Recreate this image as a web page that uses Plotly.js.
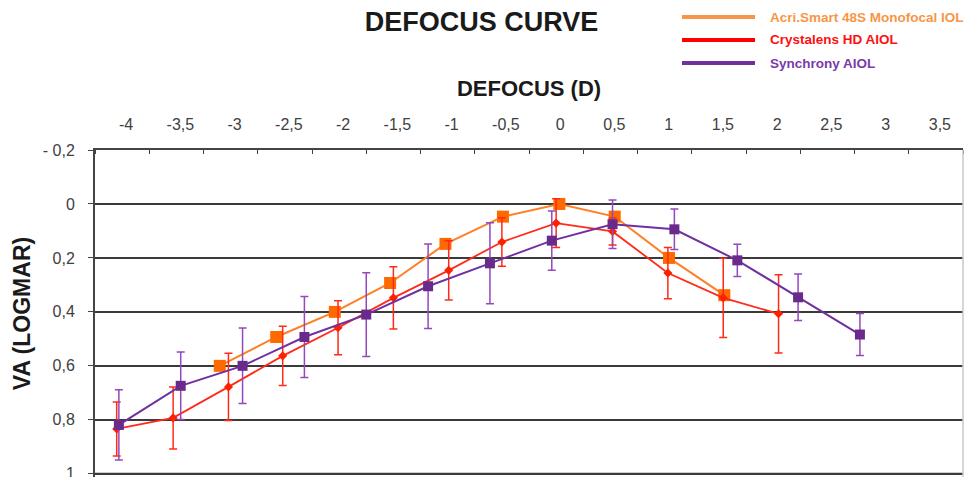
<!DOCTYPE html>
<html>
<head>
<meta charset="utf-8">
<script src="https://cdn.plot.ly/plotly-3.0.1.min.js"></script>
<style>html,body{margin:0;padding:0;background:#fff}#chart{width:970px;height:477px}</style>
</head>
<body>
<div id="chart"></div>
<script>
// Tick labels (defocus, D)
const xTickVals = [-4, -3.5, -3, -2.5, -2, -1.5, -1, -0.5, 0, 0.5, 1, 1.5, 2, 2.5, 3, 3.5];
const xTickText = ["-4", "-3,5", "-3", "-2,5", "-2", "-1,5", "-1", "-0,5", "0", "0,5", "1", "1,5", "2", "2,5", "3", "3,5"];
const yTickVals = [-0.2, 0, 0.2, 0.4, 0.6, 0.8, 1];
const yTickText = ["- 0,2", "0", "0,2", "0,4", "0,6", "0,8", "1"];

// Acri.Smart 48S Monofocal IOL (positions)
const acriX = [-3.10, -2.58, -2.04, -1.53, -1.02, -0.49, 0.03, 0.54, 1.04, 1.55];
const acriY = [0.60, 0.493, 0.40, 0.293, 0.148, 0.047, 0.0, 0.047, 0.20, 0.338];

// Crystalens HD AIOL
const crysX = [-4.05, -3.53, -3.02, -2.52, -2.01, -1.50, -0.99, -0.50, 0.00, 0.52, 1.03, 1.54, 2.05];
const crysY = [0.834, 0.793, 0.678, 0.563, 0.459, 0.348, 0.246, 0.141, 0.071, 0.102, 0.256, 0.348, 0.407];
const crysErr = [0.10, 0.115, 0.125, 0.11, 0.10, 0.115, 0.11, 0.09, 0.09, 0.05, 0.095, 0.147, 0.145];

// Synchrony AIOL
const syncX = [-4.03, -3.46, -2.89, -2.32, -1.75, -1.18, -0.61, -0.04, 0.52, 1.09, 1.67, 2.23, 2.80];
const syncY = [0.819, 0.674, 0.60, 0.493, 0.41, 0.305, 0.220, 0.136, 0.075, 0.094, 0.209, 0.346, 0.484];
const syncErr = [0.13, 0.125, 0.14, 0.15, 0.155, 0.157, 0.15, 0.11, 0.09, 0.075, 0.06, 0.086, 0.078];

const seriesNames = ["Acri.Smart 48S Monofocal IOL", "Crystalens HD AIOL", "Synchrony AIOL"];
const legendColors = ["#F79646", "#FF0000", "#7030A0"];
const legendText = ["#F79646", "#FF1010", "#7A3AAA"];

const traces = [
  {
    name: seriesNames[0], x: acriX, y: acriY, type: "scatter", mode: "lines+markers",
    line: {color: "#FF7F27", width: 2},
    marker: {symbol: "square", size: 12, color: "#FF6A00"},
    showlegend: false, cliponaxis: false
  },
  {
    name: seriesNames[1], x: crysX, y: crysY, type: "scatter", mode: "lines+markers",
    line: {color: "#FF2A1A", width: 1.8},
    marker: {symbol: "diamond", size: 7, color: "#FF2000"},
    error_y: {type: "data", array: crysErr, visible: true, color: "#FF2A1A", thickness: 1.5, width: 4},
    showlegend: false, cliponaxis: false
  },
  {
    name: seriesNames[2], x: syncX, y: syncY, type: "scatter", mode: "lines+markers",
    line: {color: "#7030A0", width: 2},
    marker: {symbol: "square", size: 10, color: "#6A2A8C"},
    error_y: {type: "data", array: syncErr, visible: true, color: "#9448BC", thickness: 1.5, width: 4},
    showlegend: false, cliponaxis: false
  }
];

const plotTop = 150, plotH = 327;
const shapes = [
  {type: "line", xref: "paper", yref: "paper", x0: 1, x1: 1, y0: 0, y1: 1, line: {color: "#C8C8C8", width: 1.5}},
  {type: "line", xref: "paper", yref: "y", x0: 0, x1: 1, y0: yTickVals[yTickVals.length - 1], y1: yTickVals[yTickVals.length - 1],
    line: {color: "#3a3a3a", width: 2}, layer: "below"}
];
const annotations = [];
const legendY = [17, 40, 63];
for (let i = 0; i < 3; i++) {
  const py = (plotTop + plotH - legendY[i]) / plotH;
  shapes.push({type: "line", xref: "paper", yref: "paper",
    x0: (682 - 95) / 868, x1: (755 - 95) / 868, y0: py, y1: py,
    line: {color: legendColors[i], width: 4}});
  annotations.push({xref: "paper", yref: "paper", x: (768 - 95) / 868, y: py,
    xanchor: "left", yanchor: "middle", showarrow: false, text: "<b>" + seriesNames[i] + "</b>",
    font: {family: "Liberation Sans, Arial", size: 13.5, color: legendText[i]}});
}

const layout = {
  width: 970, height: 477,
  margin: {l: 95, r: 7, t: plotTop, b: 0, pad: 0},
  paper_bgcolor: "#fff", plot_bgcolor: "#fff",
  font: {family: "Liberation Sans, Arial, sans-serif", color: "#404040"},
  title: {text: "<b>DEFOCUS CURVE</b>", x: 0.4964, y: 0.955, xref: "container", yref: "container",
    xanchor: "center", yanchor: "middle", font: {size: 27, color: "#1a1a1a", family: "Liberation Sans, Arial"}},
  xaxis: {
    side: "top", range: [-4.25, 3.75], autorange: false,
    tickvals: xTickVals, ticktext: xTickText, ticks: "", ticklabelshift: 4, ticklabelstandoff: 12,
    tickfont: {size: 16, color: "#404040"},
    minor: {tickvals: [-4.25, -3.75, -3.25, -2.75, -2.25, -1.75, -1.25, -0.75, -0.25, 0.25, 0.75, 1.25, 1.75, 2.25, 2.75, 3.25, 3.75],
      ticks: "inside", ticklen: 4, tickcolor: "#444", tickwidth: 1, showgrid: false},
    showgrid: false, zeroline: false, showline: true, linecolor: "#444", linewidth: 2,
    title: {text: "<b>DEFOCUS (D)</b>", standoff: 13, font: {size: 22, color: "#1a1a1a"}}
  },
  yaxis: {
    range: [1.012, -0.2], autorange: false,
    tickvals: yTickVals, ticktext: yTickText, ticks: "outside", ticklen: 5, tickcolor: "#444", tickwidth: 1,
    ticklabelstandoff: 10, ticklabeloverflow: "allow",
    tickfont: {size: 16, color: "#404040"},
    showgrid: true, gridcolor: "#3a3a3a", gridwidth: 2,
    zeroline: false, showline: true, linecolor: "#444", linewidth: 2,
    title: {text: "<b>VA (LOGMAR)</b>", standoff: 6, font: {size: 23, color: "#1a1a1a"}}
  },
  shapes: shapes,
  annotations: annotations,
  showlegend: false
};

Plotly.newPlot("chart", traces, layout, {displayModeBar: false, staticPlot: true});
</script>
</body>
</html>
